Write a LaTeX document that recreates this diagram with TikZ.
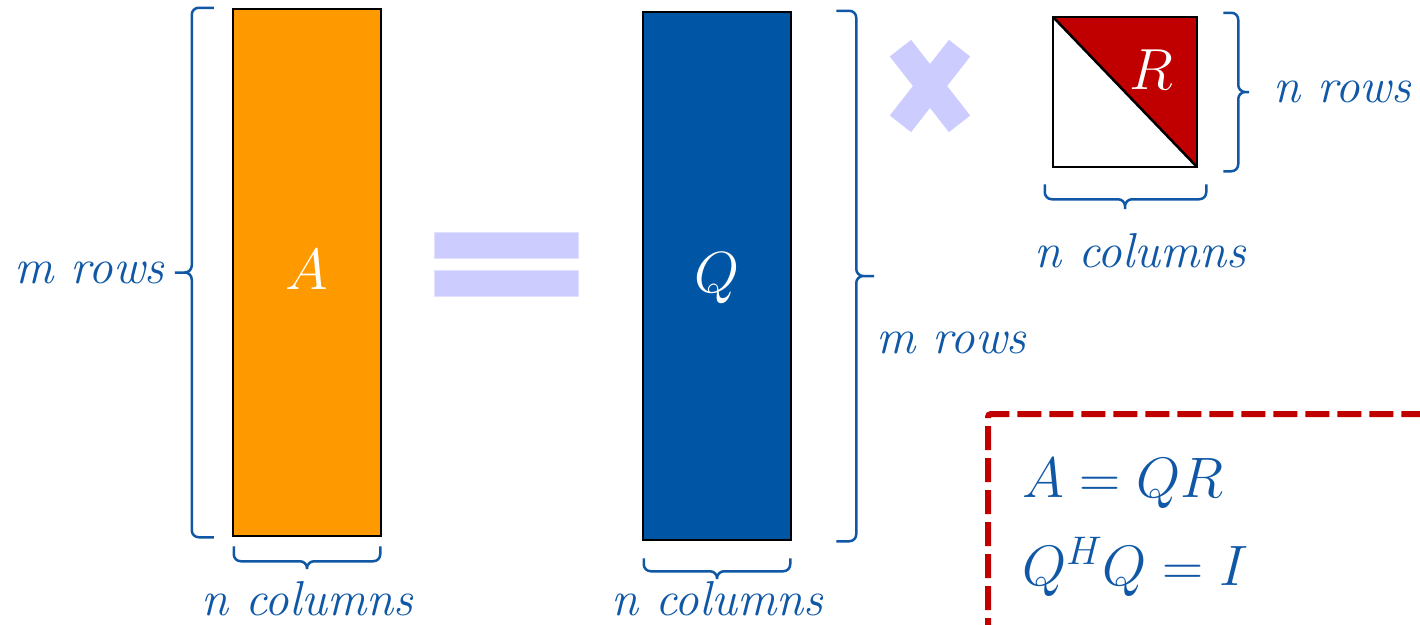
\RequirePackage{fix-cm}
\documentclass[tikz,border=0pt]{standalone}
\usepackage{amsmath}
\usetikzlibrary{positioning,calc}
\definecolor{orng}{RGB}{255,153,0}
\definecolor{qblu}{RGB}{0,85,165}
\definecolor{lblu}{RGB}{16,88,166}
\definecolor{rred}{RGB}{192,0,0}
\definecolor{lav}{RGB}{204,204,255}

\begin{document}
\begin{tikzpicture}[x=1pt,y=-1pt,
  mat/.style={draw=black,line width=2.5pt,inner sep=0pt,text=white,text height=40pt,text depth=7pt,font=\fontsize{58}{60}\selectfont},
  brc/.style={lblu,line width=2.5pt,rounded corners=7pt},
  lbl/.style={text=lblu,inner sep=0pt,font=\fontsize{49}{51}\selectfont\itshape},
  bar/.style={fill=lav,draw=lav!60!white,line width=1pt,inner sep=0pt}]
  \useasboundingbox (0,0) rectangle (1420,624);
  % the three matrices
  \node[mat,fill=orng,minimum width=148pt,minimum height=527pt] (A) at (307,272.5) {$A$};
  \node[mat,fill=qblu,minimum width=148pt,minimum height=528pt] (Q) at (717,276) {$Q$};
  \node[mat,minimum width=144pt,minimum height=150pt,path picture={
      \fill[rred] (path picture bounding box.north west) -- (path picture bounding box.north east) -- (path picture bounding box.south east) -- cycle;
      \draw[line width=2.5pt] (path picture bounding box.north west) -- (path picture bounding box.south east);}] (R) at (1125,92) {};
  \node[text=white,inner sep=0pt,font=\fontsize{58}{60}\selectfont] (Rt) at ([xshift=26pt,yshift=22pt]R.center) {$R$};
  % = and x
  \node[bar,minimum width=144pt,minimum height=26pt] (eqa) at (506,245) {};
  \node[bar,minimum width=144pt,minimum height=26pt] (eqb) at (506,283.5) {};
  \foreach \a in {52,-52} \node[fill=lav,inner sep=0pt,minimum width=96pt,minimum height=27pt,rotate=\a] (x\a) at (930,86) {};
  % braces
  \draw[brc] ([xshift=-18pt]A.north west) -- ++(-22,0) -- ($(A.west)+(-40,0)$) -- ++(-21,0) -- ++(21,0) |- ([xshift=-18pt]A.south west);
  \draw[brc] ([shift={(2pt,-9pt)}]A.south west) -- ++(0,15) -- ($(A.south)+(0,24)$) -- ++(0,12) -- ++(0,-12) -| ([shift={(-2pt,-9pt)}]A.south east);
  \draw[brc] ([xshift=44pt]Q.north east) -- ++(20,0) -- ($(Q.east)+(64,0)$) -- ++(22,0) -- ++(-22,0) |- ([xshift=44pt]Q.south east);
  \draw[brc] ([shift={(2pt,-17pt)}]Q.south west) -- ++(0,13) -- ($(Q.south)+(0,30)$) -- ++(0,12) -- ++(0,-12) -| ([shift={(-2pt,-17pt)}]Q.south east);
  \draw[brc] ([shift={(25pt,3pt)}]R.north east) -- ++(15,0) -- ($(R.east)+(40,0)$) -- ++(15,0) -- ++(-15,0) |- ([shift={(25pt,-3pt)}]R.south east);
  \draw[brc] ([shift={(-7pt,-16pt)}]R.south west) -- ++(0,15) -- ($(R.south)+(0,31)$) -- ++(0,14) -- ++(0,-14) -| ([shift={(8pt,-16pt)}]R.south east);
  % labels
  \node[lbl,left=67pt of A] (mA) {m rows};
  \node[lbl,below=44pt of A] (nA) {n columns};
  \node[lbl,anchor=west] (mQ) at ($(Q.east)+(84,67)$) {m rows};
  \node[lbl,below=40pt of Q] (nQ) {n columns};
  \node[lbl,right=75pt of R] (nR) {n rows};
  \node[lbl,below=65pt of R,xshift=15pt] (nRc) {n columns};
  % the box with the equations
  \draw[rred,line width=6pt,dash pattern=on 24pt off 8pt,dash phase=24pt,rounded corners=3pt] (988,650) -- (988,414) -- (1440,414);
  \node[text=lblu,inner sep=0pt,anchor=base west,font=\fontsize{57}{60}\selectfont] (e1) at (1022,497) {$A = QR$};
  \node[text=lblu,inner sep=0pt,anchor=base west,font=\fontsize{57}{60}\selectfont] (e2) at (1022,585) {$Q^HQ = I$};
\end{tikzpicture}
\end{document}
